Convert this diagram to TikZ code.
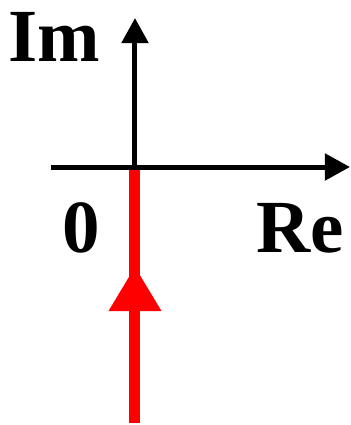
\documentclass[tikz,border=0pt]{standalone}
\usepackage{fontspec}
\setmainfont{Liberation Serif}
\usetikzlibrary{arrows.meta}

\begin{document}
\begin{tikzpicture}[x=0.5pt,y=0.5pt,
    axis/.style={line width=2.5pt,-{Triangle[length=12.5pt,width=13pt]}},
    locus/.style={red,line width=5.5pt},
    lbl/.style={anchor=base,inner sep=0pt,font=\fontsize{37.5}{40}\selectfont\bfseries}]
  \useasboundingbox (-135,-258) rectangle (216,167);
  \coordinate (O) at (0,0);
  \coordinate (xs) at (-84,0);
  \coordinate (xe) at (215,0);
  \coordinate (ye) at (0,149);
  \coordinate (rb) at (0,-256);
  % path along the negative imaginary axis
  \draw[locus] (O)--(rb);
  \fill[red] (0,-100)--(26.5,-144)--(-26.5,-144)--cycle;
  % axes
  \draw[axis] (xs)--(xe);
  \draw[axis] (O)--(ye);
  \node[lbl] (im) at (-80.5,106) {Im};
  \node[lbl] (zero) at (-54,-85) {0};
  \node[lbl] (re) at (165,-85) {Re};
\end{tikzpicture}
\end{document}
